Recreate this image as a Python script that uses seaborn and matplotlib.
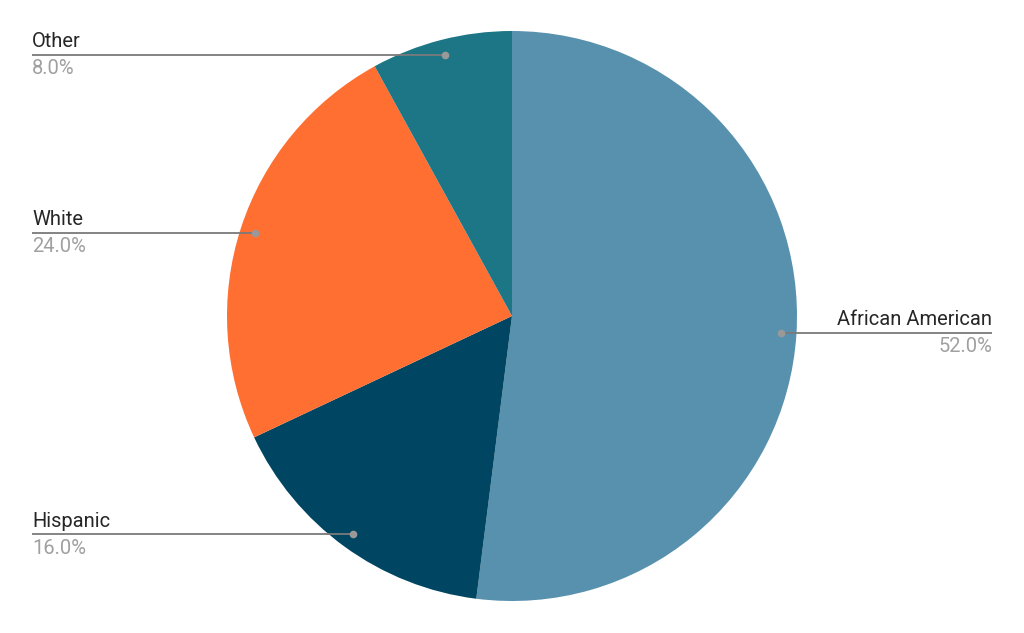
import numpy as np
import matplotlib.pyplot as plt
import seaborn as sns

# datos del grafico
categorias = ['African American', 'Hispanic', 'White', 'Other']
porcentajes = [52.0, 16.0, 24.0, 8.0]
colores = ['#5891AD', '#004561', '#FF6F31', '#1C7685']

sns.set_style('white')
plt.rcParams['font.family'] = ['Roboto', 'DejaVu Sans']

fig = plt.figure(figsize=(10.24, 6.33), dpi=100)
ax = fig.add_axes([0, 0, 1, 1])

R = 285.0  # radio en pixeles
cx, cy = 512, 316
ax.pie(porcentajes, colors=colores, startangle=90, counterclock=False,
       radius=1, center=(0, 0), wedgeprops=dict(linewidth=0))
ax.set_xlim(-cx / R, (1024 - cx) / R)
ax.set_ylim(-(633 - cy) / R, cy / R)
ax.set_aspect('equal')
ax.axis('off')

# etiquetas con lineas guia
x_izq = (32 - cx) / R
x_der = (992 - cx) / R
acum = 0
for cat, pct in zip(categorias, porcentajes):
    medio = acum + pct / 2
    acum += pct
    ang = np.deg2rad(90 - medio / 100 * 360)
    px, py = 0.947 * np.cos(ang), 0.947 * np.sin(ang)
    if px >= 0:
        xt, ha = x_der, 'right'
    else:
        xt, ha = x_izq, 'left'
    ax.plot([px, xt], [py, py], color='#7a7a7a', lw=1.3, solid_capstyle='butt')
    ax.plot(px, py, 'o', color='#999999', ms=5.5, mec='none')
    ax.text(xt, py + 3.5 / R, cat, ha=ha, va='bottom', fontsize=14.5, color='#262626')
    ax.text(xt, py - 4.5 / R, f'{pct:.1f}%', ha=ha, va='top', fontsize=14.5, color='#a0a0a0')

plt.savefig('out.png', dpi=100)
